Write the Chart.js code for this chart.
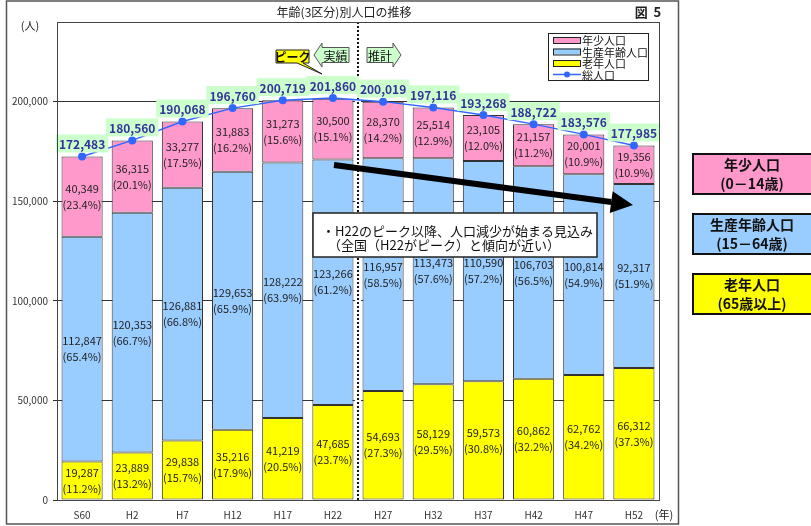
<!DOCTYPE html>
<html lang="ja">
<head>
<meta charset="utf-8">
<title>年齢(3区分)別人口の推移</title>
<script src="https://cdn.jsdelivr.net/npm/chart.js@4.4.1/dist/chart.umd.min.js"></script>
<style>
  html, body { margin: 0; padding: 0; background: #fff; }
  canvas { display: block; }
</style>
</head>
<body>
<canvas id="grafico" width="811" height="526"></canvas>
<script>
// 年次（昭和60年〜平成52年）
const years = ['S60', 'H2', 'H7', 'H12', 'H17', 'H22', 'H27', 'H32', 'H37', 'H42', 'H47', 'H52'];

// 人口（人）
const young = [40349, 36315, 33277, 31883, 31273, 30500, 28370, 25514, 23105, 21157, 20001, 19356];
const working = [112847, 120353, 126881, 129653, 128222, 123266, 116957, 113473, 110590, 106703, 100814, 92317];
const elderly = [19287, 23889, 29838, 35216, 41219, 47685, 54693, 58129, 59573, 60862, 62762, 66312];
const total = [172483, 180560, 190068, 196760, 200719, 201860, 200019, 197116, 193268, 188722, 183576, 177985];

// 構成比（%）
const youngPct = [23.4, 20.1, 17.5, 16.2, 15.6, 15.1, 14.2, 12.9, 12.0, 11.2, 10.9, 10.9];
const workingPct = [65.4, 66.7, 66.8, 65.9, 63.9, 61.2, 58.5, 57.6, 57.2, 56.5, 54.9, 51.9];
const elderlyPct = [11.2, 13.2, 15.7, 17.9, 20.5, 23.7, 27.3, 29.5, 30.8, 32.2, 34.2, 37.3];

const yTicks = [0, 50000, 100000, 150000, 200000];

const FONT = '"Noto Sans CJK JP", "DejaVu Sans", sans-serif';
const fmt = v => v.toLocaleString('en-US');

Chart.defaults.font.family = FONT;

// 積み上げ棒の中の数値と構成比
const segmentLabels = {
  id: 'segmentLabels',
  afterDatasetsDraw(chart) {
    const ctx = chart.ctx;
    const sets = [[elderly, elderlyPct], [working, workingPct], [young, youngPct]];
    ctx.save();
    ctx.font = `11px ${FONT}`;
    ctx.fillStyle = '#222';
    ctx.textAlign = 'center';
    ctx.textBaseline = 'middle';
    sets.forEach(([vals, pcts], di) => {
      chart.getDatasetMeta(di).data.forEach((bar, i) => {
        const cy = (bar.y + bar.base) / 2;
        ctx.fillText(fmt(vals[i]), bar.x, cy - 8);
        ctx.fillText(`(${pcts[i].toFixed(1)}%)`, bar.x, cy + 8);
      });
    });

    // 総人口のラベル
    ctx.font = `bold 12px ${FONT}`;
    chart.getDatasetMeta(3).data.forEach((pt, i) => {
      const txt = fmt(total[i]);
      const w = ctx.measureText(txt).width + 6;
      const cy = pt.y - 13;
      ctx.fillStyle = '#ccffcc';
      ctx.fillRect(pt.x - w / 2, cy - 9, w, 18);
      ctx.fillStyle = '#33339a';
      ctx.fillText(txt, pt.x, cy + 1);
    });
    ctx.restore();
  }
};

function arrowBox(ctx, x0, x1, yc, dir, text) {
  // 矢印型の吹き出し（dir: -1 左向き, 1 右向き）
  const head = 8, body = 7.5, half = 12;
  ctx.beginPath();
  if (dir < 0) {
    ctx.moveTo(x0, yc);
    ctx.lineTo(x0 + head, yc - half);
    ctx.lineTo(x0 + head, yc - body);
    ctx.lineTo(x1, yc - body);
    ctx.lineTo(x1, yc + body);
    ctx.lineTo(x0 + head, yc + body);
    ctx.lineTo(x0 + head, yc + half);
  } else {
    ctx.moveTo(x1, yc);
    ctx.lineTo(x1 - head, yc - half);
    ctx.lineTo(x1 - head, yc - body);
    ctx.lineTo(x0, yc - body);
    ctx.lineTo(x0, yc + body);
    ctx.lineTo(x1 - head, yc + body);
    ctx.lineTo(x1 - head, yc + half);
  }
  ctx.closePath();
  ctx.fillStyle = '#ccffcc';
  ctx.fill();
  ctx.strokeStyle = '#555';
  ctx.lineWidth = 1;
  ctx.stroke();
  ctx.fillStyle = '#111';
  ctx.font = `12px ${FONT}`;
  ctx.textAlign = 'center';
  ctx.textBaseline = 'middle';
  const cx = dir < 0 ? (x0 + head + x1) / 2 : (x0 + x1 - head) / 2;
  ctx.fillText(text, cx, yc + 1);
}

// 枠・凡例・注記
const decorations = {
  id: 'decorations',
  beforeDatasetsDraw(chart) {
    const { ctx, chartArea: a, scales } = chart;
    ctx.save();
    // 実績と推計の境目
    const xs = (scales.x.getPixelForValue(5) + scales.x.getPixelForValue(6)) / 2;
    ctx.fillStyle = '#fff';
    ctx.fillRect(xs - 3, a.top, 6, a.bottom - a.top);
    ctx.strokeStyle = '#111';
    ctx.lineWidth = 2;
    ctx.setLineDash([2, 2]);
    ctx.beginPath();
    ctx.moveTo(xs, a.top);
    ctx.lineTo(xs, a.bottom);
    ctx.stroke();
    ctx.restore();
  },
  afterDraw(chart) {
    const { ctx, chartArea: a } = chart;
    ctx.save();

    // プロット枠
    ctx.strokeStyle = '#444';
    ctx.lineWidth = 1;
    ctx.strokeRect(a.left + 0.5, a.top + 0.5, a.right - a.left, a.bottom - a.top);

    // 外枠
    ctx.strokeStyle = '#555';
    ctx.lineWidth = 1.5;
    ctx.strokeRect(6.5, 1, 672, 523);

    // タイトル
    ctx.fillStyle = '#222';
    ctx.textBaseline = 'middle';
    ctx.textAlign = 'center';
    ctx.font = `12px ${FONT}`;
    ctx.fillText('年齢(3区分)別人口の推移', 344, 12);
    ctx.font = `bold 13px ${FONT}`;
    ctx.fillText('図  5', 648, 12);
    ctx.font = `11px ${FONT}`;
    ctx.fillText('(人)', 30, 26);
    ctx.fillText('(年)', 664, 515);

    // 凡例
    ctx.fillStyle = '#fff';
    ctx.fillRect(548, 33, 100, 47);
    ctx.strokeStyle = '#222';
    ctx.lineWidth = 1;
    ctx.strokeRect(548.5, 33.5, 100, 47);
    const items = [['年少人口', '#ff99cc'], ['生産年齢人口', '#99ccff'], ['老年人口', '#ffff00']];
    ctx.textAlign = 'left';
    ctx.font = `11px ${FONT}`;
    items.forEach(([name, col], i) => {
      const y = 40 + i * 11.5;
      ctx.fillStyle = col;
      ctx.fillRect(553, y - 3, 27, 6);
      ctx.strokeStyle = '#222';
      ctx.strokeRect(553.5, y - 2.5, 27, 6);
      ctx.fillStyle = '#111';
      ctx.fillText(name, 582, y + 1);
    });
    ctx.strokeStyle = '#3366ff';
    ctx.lineWidth = 1.5;
    ctx.beginPath();
    ctx.moveTo(553, 74.5);
    ctx.lineTo(581, 74.5);
    ctx.stroke();
    ctx.fillStyle = '#3366ff';
    ctx.beginPath();
    ctx.arc(567, 74.5, 3, 0, Math.PI * 2);
    ctx.fill();
    ctx.fillStyle = '#111';
    ctx.fillText('総人口', 582, 75.5);

    // ピーク
    ctx.fillStyle = '#ffff00';
    ctx.beginPath();
    ctx.moveTo(276, 50);
    ctx.lineTo(309, 50);
    ctx.lineTo(309, 63);
    ctx.lineTo(303, 63);
    ctx.lineTo(322, 74);
    ctx.lineTo(297, 63);
    ctx.lineTo(276, 63);
    ctx.closePath();
    ctx.fill();
    ctx.strokeStyle = '#222';
    ctx.lineWidth = 1;
    ctx.stroke();
    ctx.fillStyle = '#111';
    ctx.textAlign = 'center';
    ctx.font = `bold 12px ${FONT}`;
    ctx.fillText('ピーク', 292.5, 57);

    arrowBox(ctx, 314, 349, 55, -1, '実績');
    arrowBox(ctx, 367, 401, 55, 1, '推計');

    // 減少傾向の矢印
    const x0 = 334, y0 = 165, x1 = 633, y1 = 205;
    const ang = Math.atan2(y1 - y0, x1 - x0);
    const hl = 22, hw = 11;
    const bx = x1 - hl * Math.cos(ang), by = y1 - hl * Math.sin(ang);
    ctx.strokeStyle = '#000';
    ctx.lineWidth = 6;
    ctx.beginPath();
    ctx.moveTo(x0, y0);
    ctx.lineTo(bx, by);
    ctx.stroke();
    ctx.fillStyle = '#000';
    ctx.beginPath();
    ctx.moveTo(x1, y1);
    ctx.lineTo(bx - hw * Math.sin(ang), by + hw * Math.cos(ang));
    ctx.lineTo(bx + hw * Math.sin(ang), by - hw * Math.cos(ang));
    ctx.closePath();
    ctx.fill();

    // コメント枠
    ctx.fillStyle = '#fff';
    ctx.fillRect(313, 213, 284, 44);
    ctx.strokeStyle = '#222';
    ctx.lineWidth = 1.5;
    ctx.strokeRect(313, 213, 284, 44);
    ctx.fillStyle = '#111';
    ctx.textAlign = 'left';
    ctx.font = `13px ${FONT}`;
    ctx.fillText('・H22のピーク以降、人口減少が始まる見込み', 322, 231);
    ctx.fillText('（全国（H22がピーク）と傾向が近い）', 328, 245);

    // 年齢区分の説明
    const boxes = [
      ['年少人口', '(0－14歳)', '#ff99cc', 154],
      ['生産年齢人口', '(15－64歳)', '#99ccff', 214],
      ['老年人口', '(65歳以上)', '#ffff00', 274]
    ];
    ctx.textAlign = 'center';
    boxes.forEach(([t1, t2, col, top]) => {
      ctx.fillStyle = col;
      ctx.fillRect(693, top, 120, 40);
      ctx.strokeStyle = '#111';
      ctx.lineWidth = 2;
      ctx.strokeRect(693, top, 120, 40);
      ctx.fillStyle = '#111';
      ctx.font = `bold 14px ${FONT}`;
      ctx.fillText(t1, 752, top + 11);
      ctx.fillText(t2, 752, top + 30);
    });

    ctx.restore();
  }
};

const ctx = document.getElementById('grafico').getContext('2d');

new Chart(ctx, {
  data: {
    labels: years,
    datasets: [
      { type: 'bar', label: '老年人口', data: elderly, backgroundColor: '#ffff00', order: 1 },
      { type: 'bar', label: '生産年齢人口', data: working, backgroundColor: '#99ccff', order: 1 },
      { type: 'bar', label: '年少人口', data: young, backgroundColor: '#ff99cc', order: 1 },
      {
        type: 'line',
        label: '総人口',
        data: total,
        stack: 'total',
        borderColor: '#3366ff',
        borderWidth: 1.5,
        pointRadius: 4,
        pointBackgroundColor: '#3366ff',
        pointBorderWidth: 0,
        tension: 0,
        order: 0
      }
    ]
  },
  options: {
    responsive: false,
    animation: false,
    devicePixelRatio: 1,
    layout: { padding: { top: 22, right: 152, left: 0, bottom: 0 } },
    datasets: {
      bar: {
        barPercentage: 0.82,
        categoryPercentage: 1,
        borderColor: '#333',
        borderWidth: 1,
        borderSkipped: false
      }
    },
    plugins: {
      legend: { display: false },
      tooltip: { enabled: false }
    },
    scales: {
      x: {
        stacked: true,
        grid: { display: false, drawTicks: false },
        border: { color: '#444' },
        ticks: { font: { size: 10 }, color: '#333', padding: 9 },
        afterFit: s => { s.height = 26; }
      },
      y: {
        stacked: true,
        min: 0,
        max: 240000,
        afterBuildTicks: s => { s.ticks = yTicks.map(v => ({ value: v })); },
        afterFit: s => { s.width = 57; },
        grid: { color: '#333', tickLength: 4 },
        border: { color: '#444' },
        ticks: { font: { size: 10 }, color: '#333', padding: 5, callback: v => fmt(v) }
      }
    }
  },
  plugins: [decorations, segmentLabels]
});
</script>
</body>
</html>
